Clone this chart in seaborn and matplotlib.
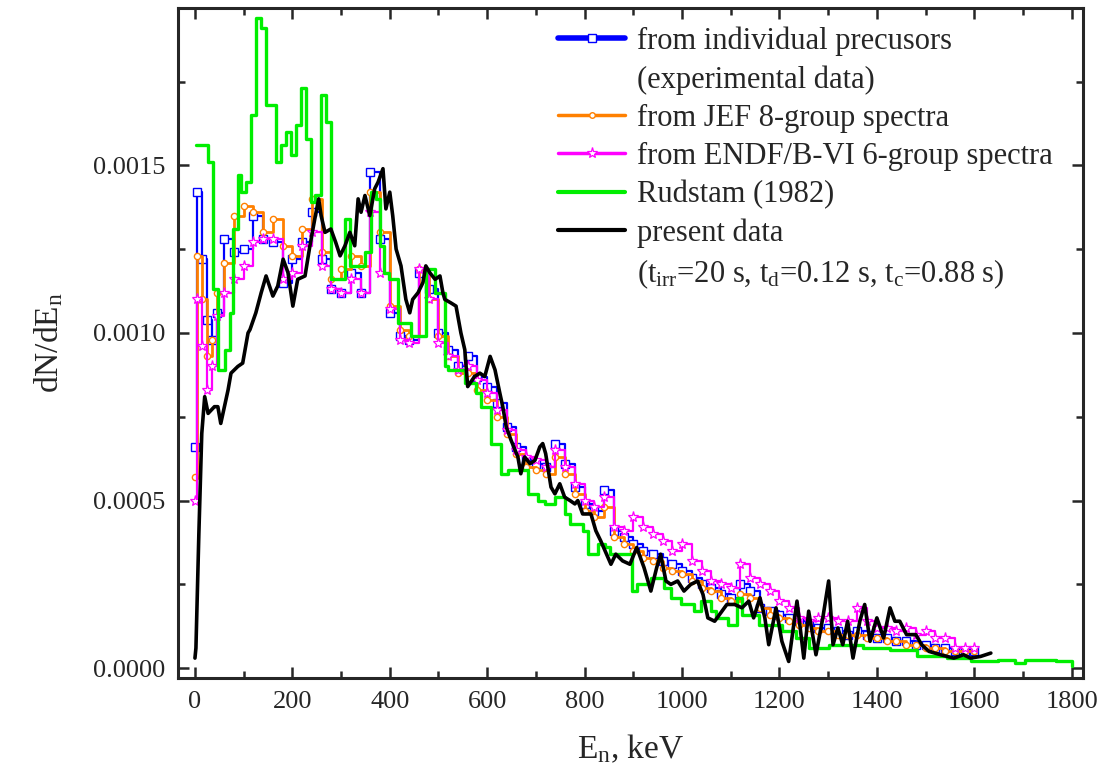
import matplotlib
matplotlib.use("Agg")
import matplotlib.pyplot as plt
from matplotlib.lines import Line2D
from matplotlib.ticker import MultipleLocator, FormatStrFormatter
import pandas as pd
import seaborn as sns

# energies (keV) of the group-spectrum steps
e_groups = [0, 5, 15, 25, 35, 45, 60, 80] + list(range(100, 1601, 20))

# dN/dE values in units of 1e-4
individual = [6.6, 14.2, 12.2, 10.4, 9.8, 10.6, 12.8, 12.4,
              12.5, 13.5, 12.8, 12.7, 11.5, 12.2, 12.7, 13.6, 12.2, 11.3,
              11.2, 11.8, 11.2, 14.8, 12.8, 10.6, 9.9, 9.8, 11.8, 11.3,
              10.0, 9.5, 9.0, 9.3, 8.7, 8.4, 7.9, 7.2, 6.6, 6.2,
              6.1, 6.0, 6.7, 6.1, 5.4, 4.9, 4.7, 5.3, 4.1, 3.9,
              3.7, 3.5, 3.4, 3.2, 3.1, 2.9, 2.7, 2.5, 2.4, 2.2,
              2.1, 2.5, 2.3, 1.8, 1.7, 1.6, 1.5, 1.4, 1.3, 1.2,
              1.2, 1.1, 1.0, 1.1, 1.0, 0.9, 0.9, 0.8, 0.8, 0.7,
              0.7, 0.6, 0.6, 0.5, 0.5, 0.5]

jef = [5.7, 12.3, 11.0, 9.3, 9.8, 11.2, 12.1, 13.5,
       13.8, 13.6, 13.0, 13.4, 12.6, 12.3, 13.1, 14.0, 12.4, 11.6,
       11.9, 12.3, 12.0, 14.2, 13.0, 10.8, 10.1, 9.9, 11.9, 11.0,
       9.9, 9.3, 8.8, 8.8, 8.3, 8.0, 7.5, 7.0, 6.4, 6.0,
       5.9, 5.8, 6.3, 5.8, 5.2, 4.7, 4.5, 4.8, 3.9, 3.7,
       3.5, 3.3, 3.2, 3.0, 2.9, 2.8, 2.6, 2.4, 2.3, 2.1,
       2.0, 2.2, 2.1, 1.8, 1.6, 1.5, 1.4, 1.3, 1.2, 1.1,
       1.1, 1.0, 1.0, 1.0, 0.9, 0.9, 0.8, 0.8, 0.7, 0.7,
       0.6, 0.6, 0.5, 0.5, 0.5, 0.5]

endf = [5.0, 11.0, 9.6, 8.3, 9.0, 10.5, 11.2, 11.6,
        12.0, 12.7, 12.8, 12.8, 11.6, 11.8, 12.6, 13.0, 12.0, 11.3,
        11.2, 11.6, 11.2, 13.6, 11.8, 10.7, 9.8, 9.7, 11.9, 11.0,
        9.7, 9.3, 8.9, 9.0, 8.6, 8.2, 7.7, 7.1, 6.5, 6.3,
        6.2, 6.0, 6.5, 6.0, 5.5, 5.0, 4.8, 5.1, 4.2, 4.1,
        4.5, 4.2, 4.0, 3.8, 3.5, 3.7, 3.2, 2.9, 2.6, 2.5,
        2.4, 3.1, 2.7, 2.5, 2.3, 2.0, 1.8, 1.5, 1.4, 1.5,
        1.5, 1.4, 1.4, 1.8, 1.4, 1.2, 1.2, 1.1, 1.2, 1.0,
        1.1, 0.9, 0.9, 0.6, 0.6, 0.6]

# Rudstam (1982) histogram
e_rud = [2, 27, 37, 47, 62, 72, 78, 88, 94, 105, 115, 125, 136, 146, 166, 177,
         187, 197, 207, 217, 228, 238, 246, 259, 269, 279, 308, 318, 349, 362,
         372, 380, 388, 398, 417, 443, 474, 493, 513, 519, 554, 577, 587, 608,
         628, 642, 683, 704, 718, 739, 759, 770, 796, 807, 827, 841, 852, 897,
         907, 936, 963, 977, 998, 1024, 1039, 1059, 1069, 1094, 1113, 1123,
         1158, 1205, 1234, 1260, 1301, 1371, 1427, 1482, 1545, 1593, 1648,
         1683, 1704, 1767, 1800]
rudstam = [15.6, 15.1, 11.3, 8.9, 9.5, 10.6, 13.1, 14.7, 14.2, 14.5, 16.5, 19.4,
           19.1, 16.8, 15.1, 15.6, 16.0, 15.3, 16.2, 17.3, 15.8, 13.9, 14.1,
           17.1, 16.3, 11.6, 13.4, 12.0, 12.4, 14.2, 14.0, 12.6, 11.8, 11.6,
           10.3, 9.9, 11.9, 11.2, 9.0, 8.9, 8.5, 8.2, 7.8, 6.7, 5.8, 5.9, 5.2,
           5.0, 4.9, 5.1, 4.6, 4.3, 4.1, 3.4, 3.7, 3.6, 3.4, 2.3, 2.5, 2.7,
           2.4, 2.1, 1.9, 1.7, 2.0, 1.7, 1.5, 1.3, 2.1, 1.6, 1.3, 1.1, 0.9,
           0.6, 0.7, 0.6, 0.55, 0.35, 0.3, 0.2, 0.25, 0.15, 0.25, 0.2, 0.05]

# present data
e_present = [0, 2, 8, 14, 20, 27, 40, 47, 53, 68, 74, 88, 98, 109, 113, 125, 136,
             146, 160, 170, 181, 191, 201, 211, 226, 236, 246, 254, 259, 267,
             279, 289, 298, 308, 318, 328, 335, 341, 349, 359, 369, 376, 386,
             392, 400, 406, 413, 423, 433, 441, 447, 458, 468, 474, 482, 493,
             503, 509, 513, 525, 536, 546, 554, 560, 574, 585, 595, 606, 616,
             626, 632, 639, 649, 663, 669, 677, 688, 698, 708, 714, 720, 731,
             739, 749, 759, 770, 780, 786, 796, 813, 823, 833, 848, 854, 864,
             878, 893, 907, 922, 936, 948, 956, 967, 977, 991, 1004, 1018, 1032,
             1043, 1053, 1067, 1082, 1092, 1108, 1123, 1137, 1147, 1160, 1170,
             1178, 1193, 1205, 1219, 1236, 1250, 1260, 1275, 1289, 1301, 1310,
             1320, 1330, 1340, 1351, 1365, 1375, 1386, 1400, 1414, 1427, 1437,
             1447, 1461, 1480, 1492, 1507, 1531, 1558, 1578, 1592, 1613, 1634]
present = [0.3, 0.6, 4.0, 7.0, 8.1, 7.6, 7.8, 7.8, 7.3, 8.3, 8.8, 9.0, 9.1, 10.0,
           10.1, 10.6, 11.2, 11.7, 11.1, 11.4, 12.2, 11.8, 10.8, 11.6, 11.7,
           12.6, 13.4, 14.0, 13.5, 13.0, 13.1, 12.7, 12.3, 12.6, 13.0, 12.6,
           14.0, 13.6, 14.1, 13.5, 14.3, 14.5, 14.9, 13.7, 14.2, 13.5, 12.5,
           12.0, 11.0, 10.6, 11.0, 11.2, 11.5, 12.0, 11.8, 11.6, 11.7, 11.2,
           11.0, 10.9, 10.8, 10.0, 9.5, 8.4, 8.7, 8.8, 8.7, 9.3, 8.9, 8.2, 7.8,
           7.2, 6.8, 6.3, 5.8, 6.3, 6.1, 6.2, 6.6, 6.7, 6.4, 5.4, 5.2, 5.5, 5.1,
           5.0, 4.9, 5.0, 4.6, 4.6, 4.1, 3.8, 3.3, 3.1, 3.4, 3.2, 3.1, 3.6, 3.0,
           2.3, 3.0, 3.4, 2.6, 2.5, 2.6, 2.3, 2.5, 2.6, 2.2, 1.5, 1.4, 1.7, 1.9,
           1.9, 1.8, 2.0, 1.5, 2.1, 1.5, 0.7, 1.8, 0.8, 0.2, 2.0, 0.3, 1.7, 0.4,
           1.5, 2.6, 0.7, 1.2, 0.7, 1.4, 0.3, 1.4, 1.9, 0.8, 1.5, 0.9, 1.8, 1.4,
           1.4, 1.0, 1.0, 0.7, 0.5, 0.4, 0.3, 0.4, 0.3, 0.35, 0.45]

groups = pd.DataFrame({"E": e_groups,
                       "individual": [v * 1e-4 for v in individual],
                       "jef": [v * 1e-4 for v in jef],
                       "endf": [v * 1e-4 for v in endf]})
rud = pd.DataFrame({"E": e_rud, "y": [v * 1e-4 for v in rudstam]})
pres = pd.DataFrame({"E": e_present, "y": [v * 1e-4 for v in present]})

sns.set_style("ticks")
plt.rcParams["font.family"] = ["Liberation Serif", "DejaVu Serif"]
plt.rcParams["mathtext.fontset"] = "custom"
plt.rcParams["mathtext.rm"] = "Liberation Serif"
plt.rcParams["mathtext.it"] = "Liberation Serif:italic"

fig = plt.figure(figsize=(11.05, 7.76), dpi=100)
ax = fig.add_axes([0.161, 0.126, 0.819, 0.864])

BLUE, ORANGE, MAGENTA, GREEN = "#0000ff", "#ff8000", "#ff00ff", "#00ee00"

sns.lineplot(data=groups, x="E", y="individual", ax=ax, color=BLUE, lw=1.6,
             drawstyle="steps-post", marker="s", ms=6, mfc="white", mec=BLUE,
             mew=1.0, estimator=None)
sns.lineplot(data=groups, x="E", y="jef", ax=ax, color=ORANGE, lw=2.0,
             drawstyle="steps-post", marker="o", ms=4.5, mfc="white", mec=ORANGE,
             mew=1.0, estimator=None)
sns.lineplot(data=groups, x="E", y="endf", ax=ax, color=MAGENTA, lw=1.6,
             drawstyle="steps-post", marker="*", ms=8, mfc="white", mec=MAGENTA,
             mew=0.9, estimator=None)
sns.lineplot(data=rud, x="E", y="y", ax=ax, color=GREEN, lw=2.4,
             drawstyle="steps-post", estimator=None)
sns.lineplot(data=pres, x="E", y="y", ax=ax, color="black", lw=2.6,
             estimator=None)

ax.set_xlim(-35, 1823)
ax.set_ylim(-0.00003, 0.00197)
ax.xaxis.set_major_locator(MultipleLocator(200))
ax.xaxis.set_minor_locator(MultipleLocator(100))
ax.yaxis.set_major_locator(MultipleLocator(0.0005))
ax.yaxis.set_minor_locator(MultipleLocator(0.00025))
ax.yaxis.set_major_formatter(FormatStrFormatter("%.4f"))
ax.tick_params(which="both", direction="in", top=True, right=True, width=1.8,
               labelsize=19, pad=9)
ax.tick_params(which="major", length=8)
ax.tick_params(which="minor", length=5)
for s in ax.spines.values():
    s.set_linewidth(2.2)

ax.set_xlabel("E$_\\mathrm{n}$, keV", fontsize=24, labelpad=14)
ax.set_ylabel("dN/dE$_\\mathrm{n}$", fontsize=24, labelpad=20)

blank = Line2D([], [], color="none")
handles = [
    Line2D([], [], color=BLUE, lw=4, marker="s", ms=6, mfc="white", mec=BLUE, mew=1),
    blank,
    Line2D([], [], color=ORANGE, lw=2.5, marker="o", ms=4, mfc="white", mec=ORANGE, mew=1),
    Line2D([], [], color=MAGENTA, lw=2.5, marker="*", ms=8, mfc="white", mec=MAGENTA, mew=0.9),
    Line2D([], [], color=GREEN, lw=3),
    Line2D([], [], color="black", lw=3),
    blank,
]
labels = [
    "from individual precusors",
    "(experimental data)",
    "from JEF 8-group spectra",
    "from ENDF/B-VI 6-group spectra",
    "Rudstam (1982)",
    "present data",
    "(t$_\\mathrm{irr}$=20 s, t$_\\mathrm{d}$=0.12 s, t$_\\mathrm{c}$=0.88 s)",
]
ax.legend(handles, labels, loc="upper left", bbox_to_anchor=(0.42, 0.972),
          frameon=False, fontsize=22, handlelength=2.2, handletextpad=0.4,
          labelspacing=0.3, borderpad=0, borderaxespad=0)

fig.savefig("out.png", dpi=100)
